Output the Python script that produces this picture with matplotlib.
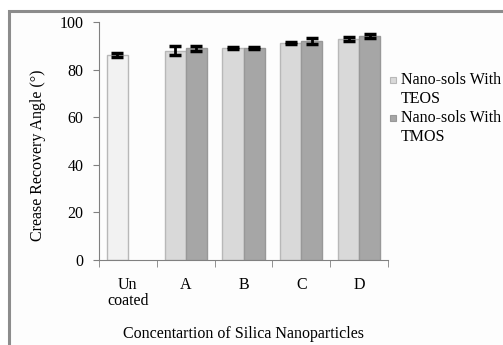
import numpy as np
import matplotlib.pyplot as plt
from matplotlib.patches import Rectangle

plt.rcParams['font.family'] = ['Liberation Serif', 'DejaVu Serif']

# crease recovery angle per treatment
groups = ['Un\ncoated', 'A', 'B', 'C', 'D']
teos = [86, 88, 89, 91, 93]
teos_err = [0.8, 2.0, 0.4, 0.4, 0.8]
tmos = [np.nan, 89, 89, 92, 94]
tmos_err = [np.nan, 1.0, 0.4, 1.3, 0.8]
series_names = ['Nano-sols With\nTEOS', 'Nano-sols With\nTMOS']
series_colors = ['#d9d9d9', '#a6a6a6']
series_edges = ['#b8b8b8', '#989898']

fs = 11.5

fig = plt.figure(figsize=(5.03, 3.45), dpi=100)
fig.patch.set_facecolor('white')

# gray outer frame of the chart area
fig.patches.append(Rectangle((9 / 503, -0.1), 1.2, 1 - 11 / 345 + 0.1,
                             transform=fig.transFigure, facecolor='#fdfdfd',
                             edgecolor='#8c8c8c', lw=2.2, zorder=-5))

ax = fig.add_axes([99 / 503, 1 - 260 / 345, 289 / 503, 238 / 345])
ax.set_facecolor('none')

x = np.arange(len(groups))
w = 0.365
err_kw = dict(ecolor='black', elinewidth=2.0, capsize=4.5, capthick=2.5)

b1 = ax.bar(x - w / 2, teos, w, yerr=teos_err, color=series_colors[0],
            edgecolor=series_edges[0], lw=1.0, error_kw=err_kw)
b1[0].set_facecolor('#f2f2f2')
ax.bar(x + w / 2, tmos, w, yerr=tmos_err, color=series_colors[1],
       edgecolor=series_edges[1], lw=1.0, error_kw=err_kw)

ax.set_xlim(-0.5, len(groups) - 0.5)
ax.set_ylim(0, 100)
ax.set_yticks(range(0, 101, 20))
ax.set_xticks(x)
ax.set_xticklabels(groups, fontsize=fs, linespacing=1.05)
ax.set_xticks(np.arange(-0.5, len(groups)), minor=True)
ax.tick_params(axis='x', which='major', length=0, pad=12)
ax.tick_params(axis='x', which='minor', length=5, color='#808080')
ax.tick_params(axis='y', length=4, color='#808080', labelsize=fs, pad=7)

for side in ['top', 'right']:
    ax.spines[side].set_visible(False)
for side in ['left', 'bottom']:
    ax.spines[side].set_color('#808080')

ax.set_ylabel('Crease Recovery Angle (°)', fontsize=fs)
ax.yaxis.set_label_coords(-0.183, 0.44)
ax.set_xlabel('Concentartion of Silica Nanoparticles', fontsize=fs, labelpad=12)

# legend: small square next to the first line of each two-line label
for i, (name, fc, ec) in enumerate(zip(series_names, series_colors, series_edges)):
    y0 = 0.744 - i * 0.16
    ax.add_patch(Rectangle((1.007, y0), 0.021, 0.025, transform=ax.transAxes,
                           facecolor=fc, edgecolor=ec, lw=0.8, clip_on=False))
    ax.text(1.045, y0 + 0.047, name, transform=ax.transAxes, fontsize=fs,
            ha='left', va='top', linespacing=1.3)

fig.savefig('out.png', dpi=100)
